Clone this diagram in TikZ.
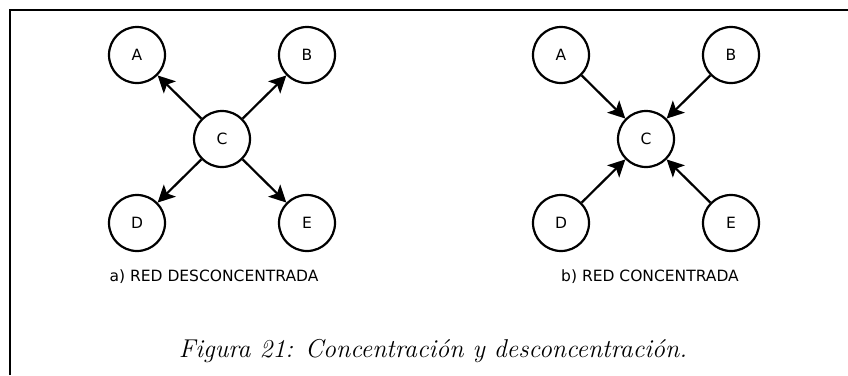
\documentclass[tikz,border=0pt]{standalone}
\usepackage{fontspec}
\newfontfamily\redfont{DejaVu Sans}
\usetikzlibrary{arrows.meta,positioning}

\begin{document}
\begin{tikzpicture}[x=1pt,y=-1pt,
  nodo/.style={circle,draw,line width=2.2pt,minimum size=56pt,inner sep=0pt,font=\redfont\fontsize{15.5}{18}\selectfont},
  flecha/.style={-{Stealth[length=17pt,width=17pt,inset=4pt]},line width=2.2pt},
  rotulo/.style={font=\redfont\fontsize{15.5}{18}\selectfont},
  node distance=84pt and 85pt, on grid]
  \useasboundingbox (0,0) rectangle (848,375);
  \draw[line width=2.4pt] (10,375) -- (10,10) -- (848,10);

  \node[nodo] (c1) at (222,139) {C};
  \node[nodo,above left=of c1] (a1) {A};
  \node[nodo,above right=of c1] (b1) {B};
  \node[nodo,below left=of c1] (d1) {D};
  \node[nodo,below right=of c1] (e1) {E};
  \node[rotulo] (r1) at (214,277) {a) RED DESCONCENTRADA};

  \draw[flecha] (c1) -- (a1);
  \draw[flecha] (c1) -- (b1);
  \draw[flecha] (c1) -- (d1);
  \draw[flecha] (c1) -- (e1);

  \node[nodo] (c2) at (646,139) {C};
  \node[nodo,above left=of c2] (a2) {A};
  \node[nodo,above right=of c2] (b2) {B};
  \node[nodo,below left=of c2] (d2) {D};
  \node[nodo,below right=of c2] (e2) {E};
  \node[rotulo] (r2) at (650,277) {b) RED CONCENTRADA};

  \draw[flecha] (a2) -- (c2);
  \draw[flecha] (b2) -- (c2);
  \draw[flecha] (d2) -- (c2);
  \draw[flecha] (e2) -- (c2);

  \node[font=\itshape\fontsize{25.8}{30}\selectfont] (pie) at (433,351) {Figura 21: Concentración y desconcentración.};
\end{tikzpicture}
\end{document}
